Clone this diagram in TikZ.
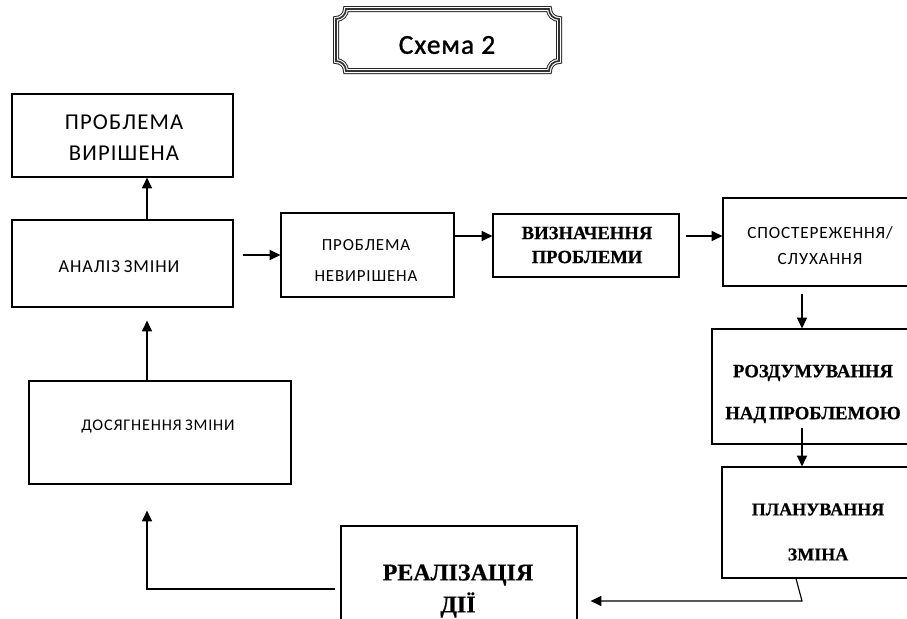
\documentclass[tikz,border=0pt]{standalone}
\usepackage{fontspec}
\setmainfont{Liberation Serif}
\newfontfamily\sansf[LetterSpace=5]{Carlito}
\newfontfamily\titlef[LetterSpace=4,FakeBold=1.2]{Carlito}
\newfontfamily\serifb[FakeBold=0.6]{Liberation Serif}
\usetikzlibrary{arrows.meta}
\begin{document}
\begin{tikzpicture}[x=0.75pt,y=-0.75pt]
\tikzset{
  box/.style={draw, line width=0.9pt, inner sep=0pt},
  arr/.style={line width=0.85pt, -{Triangle[length=8pt,width=7.5pt]}},
  txt/.style={inner sep=0pt, align=center},
}
\useasboundingbox (0,0) rectangle (907,618);
\fill[white] (0,0) rectangle (907,618);

% title plaque
\def\plaque{(346,9) -- (549,9) arc[start angle=180,end angle=90,radius=10]
  -- (559,61) arc[start angle=270,end angle=180,radius=10]
  -- (346,71) arc[start angle=0,end angle=-90,radius=10]
  -- (336,19) arc[start angle=90,end angle=0,radius=10] -- cycle}
\draw[line width=4.5pt, black!85] \plaque;
\draw[line width=3pt, white] \plaque;
\draw[line width=1.3pt, black!80] \plaque;
\node[txt, font=\titlef\fontsize{20.5}{24}\selectfont] (title) at (447,45) {Схема 2};

% boxes
\node[box, minimum width=165.75pt, minimum height=62.25pt] (A) at (122.5,135.5) {};
\node[box, minimum width=165.75pt, minimum height=65.25pt] (B) at (122.5,263.5) {};
\node[box, minimum width=129.75pt, minimum height=63pt] (C) at (367.5,255) {};
\node[box, minimum width=139.5pt, minimum height=47.25pt] (D) at (586,245.5) {};
\node[box, minimum width=144pt, minimum height=66pt] (E) at (819,242) {};
\node[box, minimum width=151.5pt, minimum height=86.25pt] (F) at (813,386.5) {};
\node[box, minimum width=144pt, minimum height=83.25pt] (G) at (818,522.5) {};
\node[box, minimum width=177pt, minimum height=97.5pt] (H) at (459,591) {};
\node[box, minimum width=196.5pt, minimum height=77.25pt] (I) at (160,432.5) {};

% texts
\node[txt, font=\sansf\fontsize{17}{23.25}\selectfont] (At) at (124,138) {ПРОБЛЕМА\\ВИРІШЕНА};
\node[txt, font=\sansf\fontsize{13.7}{16}\selectfont] (Bt) at (119,267) {{\spaceskip=0.2em АНАЛІЗ ЗМІНИ}};
\node[txt, font=\sansf\fontsize{12.7}{23.25}\selectfont] (Ct) at (366,261) {ПРОБЛЕМА\\НЕВИРІШЕНА};
\node[txt, font=\serifb\bfseries\fontsize{14}{18}\selectfont] (Dt) at (587,245) {ВИЗНАЧЕННЯ\\ПРОБЛЕМИ};
\node[txt, font=\sansf\fontsize{12.9}{19.5}\selectfont] (Et) at (820,246) {СПОСТЕРЕЖЕННЯ/\\СЛУХАННЯ};
\node[txt, font=\serifb\bfseries\fontsize{14}{31.5}\selectfont] (Ft) at (813,394) {РОЗДУМУВАННЯ\\{\spaceskip=0.15em НАД ПРОБЛЕМОЮ}};
\node[txt, font=\serifb\bfseries\fontsize{13.5}{33.75}\selectfont] (Gt) at (818,532) {ПЛАНУВАННЯ\\ЗМІНА};
\node[txt, font=\serifb\bfseries\fontsize{18}{24}\selectfont] (Ht) at (458,591) {РЕАЛІЗАЦІЯ\\ДІЇ};
\node[txt, font=\sansf\fontsize{12.2}{14}\selectfont] (It) at (158,426) {{\spaceskip=0.2em ДОСЯГНЕННЯ ЗМІНИ}};

% connectors
\coordinate (xl) at (147,0);
\coordinate (xr) at (802,0);
\coordinate (y1) at (0,255);
\coordinate (y2) at (0,236);
\coordinate (fs) at (802,428);
\coordinate (gs) at (796,0);
\coordinate (gk) at (802,601);
\coordinate (yh) at (0,589);

\draw[arr] (B.north -| xl) -- (A.south -| xl);
\draw[arr, shorten >=9.75pt] (I.north -| xl) -- (B.south -| xl);
\draw[arr, shorten <=6.75pt] (B.east |- y1) -- (C.west |- y1);
\draw[arr] (C.east |- y2) -- (D.west |- y2);
\draw[arr, shorten <=4.5pt] (D.east |- y2) -- (E.west |- y2);
\draw[arr, shorten <=5.25pt] (E.south -| xr) -- (F.north -| xr);
\draw[arr] (fs) -- (G.north -| xr);
\draw[arr, shorten >=9.75pt] (G.south -| gs) -- (gk) -- (H.east |- gk);
\draw[arr, shorten <=3.75pt, shorten >=19.5pt] (H.west |- yh) -- (xl |- yh) -- (I.south -| xl);
\end{tikzpicture}
\end{document}
